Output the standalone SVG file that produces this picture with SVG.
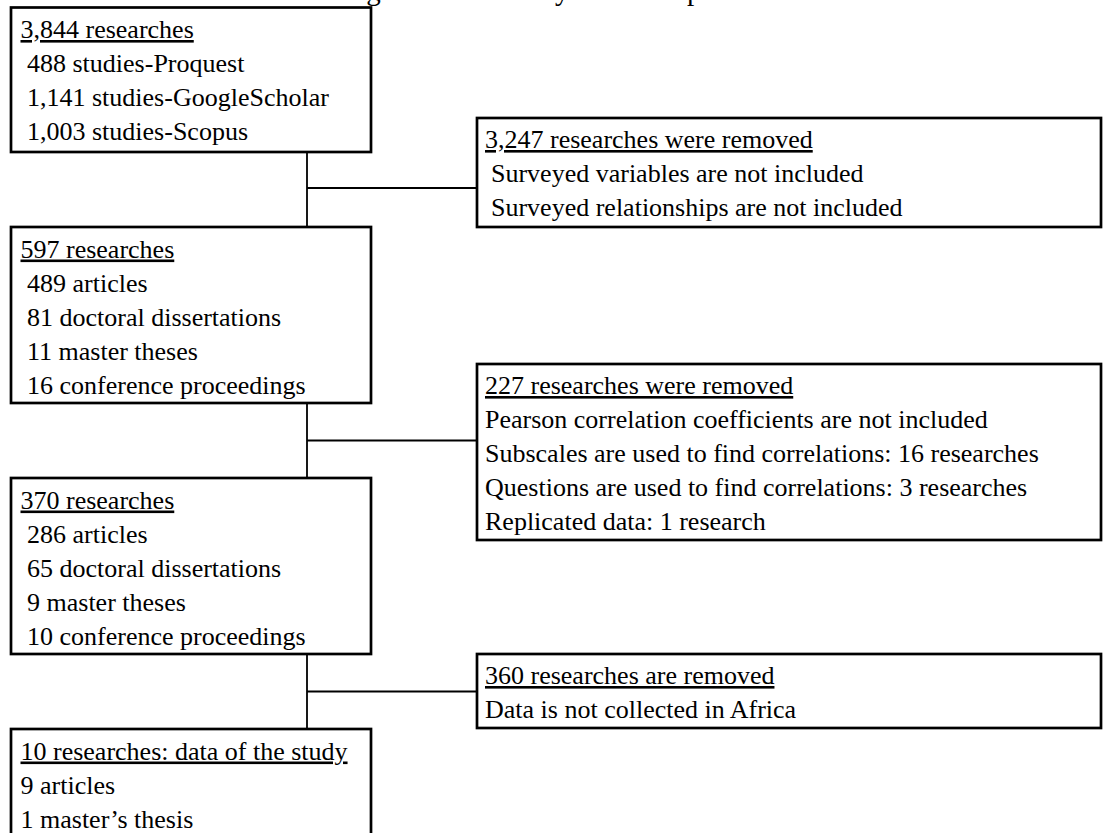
<svg xmlns="http://www.w3.org/2000/svg" width="1103" height="833" viewBox="0 0 1103 833">
  <style>
    .box { fill: #ffffff; stroke: #000000; stroke-width: 2.7; }
    .conn { fill: none; stroke: #000000; stroke-width: 1.8; }
    text { font-family: "Liberation Serif", "Times New Roman", serif; font-size: 26px; fill: #000000; }
    .hd { text-decoration: underline; }
    .title { font-size: 29px; }
  </style>
  <rect x="0" y="0" width="1103" height="833" fill="#ffffff"/>
  <text class="title" x="342" y="-0.5">Figure 1: The study selection process</text>

  <g id="connectors">
    <path class="conn" d="M307,152 V227 M307,188 H477"/>
    <path class="conn" d="M307,403 V478 M307,440.5 H477"/>
    <path class="conn" d="M307,654 V729 M307,691.5 H477"/>
  </g>

  <g id="n1">
    <rect class="box" x="11" y="7.5" width="360" height="144.5"/>
    <text class="hd" x="20.5" y="38">3,844 researches</text>
    <text x="27" y="72">488 studies-Proquest</text>
    <text x="27" y="106">1,141 studies-GoogleScholar</text>
    <text x="27" y="140">1,003 studies-Scopus</text>
  </g>

  <g id="r1">
    <rect class="box" x="477" y="118" width="624" height="109"/>
    <text class="hd" x="485" y="148">3,247 researches were removed</text>
    <text x="491" y="182">Surveyed variables are not included</text>
    <text x="491" y="216">Surveyed relationships are not included</text>
  </g>

  <g id="n2">
    <rect class="box" x="11" y="227" width="360" height="176"/>
    <text class="hd" x="20.5" y="257.5">597 researches</text>
    <text x="27" y="291.5">489 articles</text>
    <text x="27" y="325.5">81 doctoral dissertations</text>
    <text x="27" y="359.5">11 master theses</text>
    <text x="27" y="393.5">16 conference proceedings</text>
  </g>

  <g id="r2">
    <rect class="box" x="477" y="364" width="624" height="176"/>
    <text class="hd" x="485" y="394">227 researches were removed</text>
    <text x="485" y="428">Pearson correlation coefficients are not included</text>
    <text x="485" y="462">Subscales are used to find correlations: 16 researches</text>
    <text x="485" y="496">Questions are used to find correlations: 3 researches</text>
    <text x="485" y="530">Replicated data: 1 research</text>
  </g>

  <g id="n3">
    <rect class="box" x="11" y="478" width="360" height="176"/>
    <text class="hd" x="20.5" y="508.5">370 researches</text>
    <text x="27" y="542.5">286 articles</text>
    <text x="27" y="576.5">65 doctoral dissertations</text>
    <text x="27" y="610.5">9 master theses</text>
    <text x="27" y="644.5">10 conference proceedings</text>
  </g>

  <g id="r3">
    <rect class="box" x="477" y="654" width="624" height="74"/>
    <text class="hd" x="485" y="684">360 researches are removed</text>
    <text x="485" y="718">Data is not collected in Africa</text>
  </g>

  <g id="n4">
    <rect class="box" x="11" y="729" width="360" height="120"/>
    <text class="hd" x="20.5" y="759.5">10 researches: data of the study</text>
    <text x="20.5" y="793.5">9 articles</text>
    <text x="20.5" y="827.5">1 master’s thesis</text>
  </g>
</svg>
